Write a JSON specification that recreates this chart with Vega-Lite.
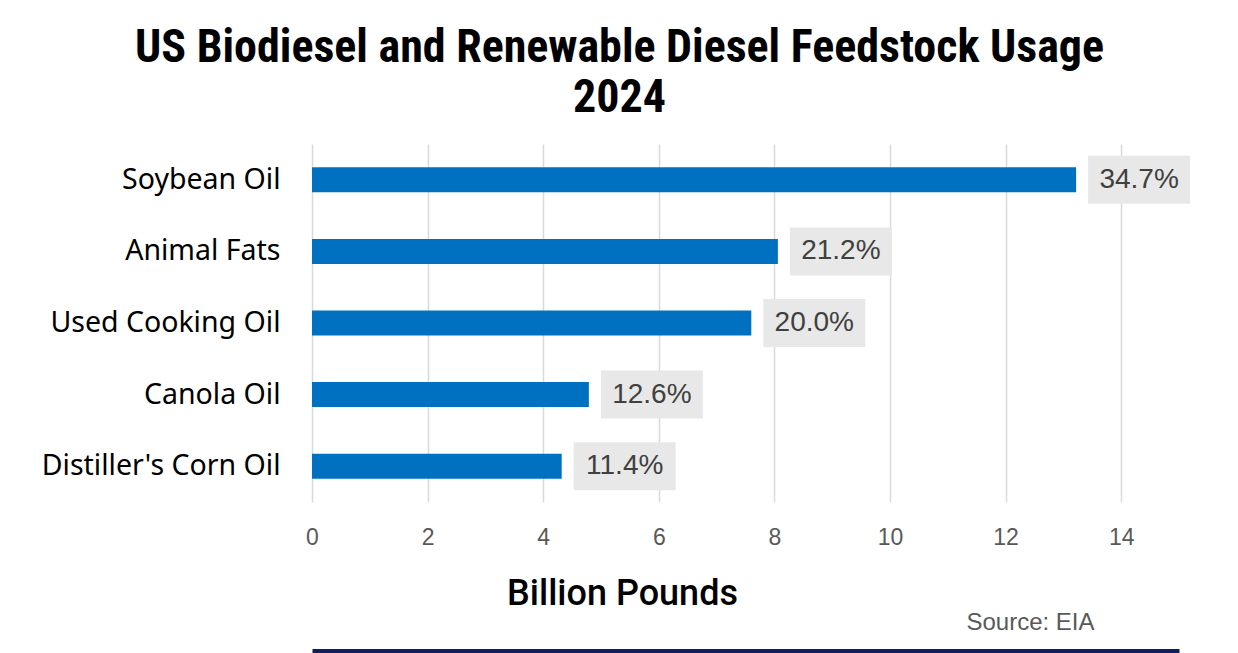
{
  "$schema": "https://vega.github.io/schema/vega-lite/v6.json",
  "width": 867,
  "height": 358,
  "autosize": {"type": "none"},
  "padding": {"left": 312, "top": 144, "right": 59, "bottom": 151},
  "background": "white",
  "title": {
    "text": ["US Biodiesel and Renewable Diesel Feedstock Usage", "2024"],
    "font": "Roboto Condensed, Liberation Sans Narrow, DejaVu Sans Condensed, Roboto",
    "fontSize": 46,
    "fontWeight": "bold",
    "color": "black",
    "lineHeight": 50,
    "anchor": "middle",
    "frame": "group",
    "dx": -126,
    "baseline": "alphabetic",
    "offset": -14
  },
  "data": {
    "values": [
      {"feedstock": "Soybean Oil", "billion_pounds": 13.22, "share": "34.7%", "order": 1},
      {"feedstock": "Animal Fats", "billion_pounds": 8.06, "share": "21.2%", "order": 2},
      {"feedstock": "Used Cooking Oil", "billion_pounds": 7.6, "share": "20.0%", "order": 3},
      {"feedstock": "Canola Oil", "billion_pounds": 4.79, "share": "12.6%", "order": 4},
      {"feedstock": "Distiller's Corn Oil", "billion_pounds": 4.32, "share": "11.4%", "order": 5}
    ]
  },
  "encoding": {
    "y": {
      "field": "feedstock",
      "type": "nominal",
      "sort": {"field": "order", "order": "ascending"},
      "axis": {
        "title": "Source: EIA",
        "titleAngle": 0,
        "titleX": 718,
        "titleY": 485,
        "titleAlign": "center",
        "titleBaseline": "alphabetic",
        "titleFont": "Liberation Sans",
        "titleFontSize": 24,
        "titleFontWeight": "normal",
        "titleColor": "#595959",
        "labelFont": "Noto Sans",
        "labelFontSize": 28.5,
        "labelColor": "black",
        "labelPadding": 32,
        "labelLimit": 400,
        "ticks": false,
        "tickSize": 0,
        "domain": false,
        "grid": false
      }
    }
  },
  "layer": [
    {
      "mark": {"type": "bar", "color": "#0070C0", "size": 25},
      "encoding": {
        "x": {
          "field": "billion_pounds",
          "type": "quantitative",
          "scale": {"domain": [0, 15], "nice": false},
          "axis": {
            "orient": "bottom",
            "values": [0, 2, 4, 6, 8, 10, 12, 14],
            "grid": true,
            "gridColor": "#d9d9d9",
            "gridWidth": 1.5,
            "domain": false,
            "ticks": false,
            "labelFlush": false,
            "labelFont": "Liberation Sans",
            "labelFontSize": 23,
            "labelColor": "#595959",
            "labelPadding": 24,
            "title": "Billion Pounds",
            "titleFont": "Roboto",
            "titleFontSize": 36,
            "titleFontWeight": 500,
            "titleColor": "black",
            "titleX": 310,
            "titleY": 102,
            "titleAlign": "center",
            "titleBaseline": "alphabetic"
          }
        }
      }
    },
    {
      "mark": {"type": "bar", "color": "#e8e8e8", "size": 48, "xOffset": 12, "x2Offset": 114},
      "encoding": {
        "x": {"field": "billion_pounds", "type": "quantitative", "axis": null},
        "x2": {"field": "billion_pounds"}
      }
    },
    {
      "mark": {
        "type": "text",
        "dx": 63,
        "align": "center",
        "baseline": "middle",
        "font": "Liberation Sans",
        "fontSize": 28,
        "color": "#404040"
      },
      "encoding": {
        "x": {
          "field": "billion_pounds",
          "type": "quantitative",
          "axis": {
            "orient": "bottom",
            "title": null,
            "labels": false,
            "ticks": false,
            "grid": false,
            "domain": true,
            "domainColor": "#0f1f5c",
            "domainWidth": 5,
            "offset": 149
          }
        },
        "text": {"field": "share"}
      }
    }
  ],
  "resolve": {"axis": {"x": "independent"}},
  "config": {"view": {"stroke": null}}
}
